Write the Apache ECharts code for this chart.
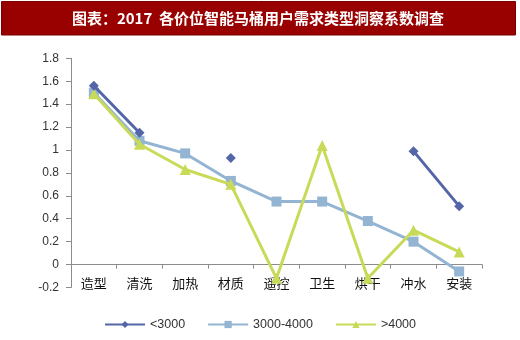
<!DOCTYPE html>
<html>
<head>
<meta charset="utf-8">
<script src="https://cdn.jsdelivr.net/npm/echarts@6/dist/echarts.min.js"></script>
<style>
  html, body { margin: 0; padding: 0; background: #fff; }
  #chart { width: 520px; height: 340px; }
</style>
</head>
<body>
<div id="chart"></div>
<script>
// Demand categories along the x axis
const categories = ['造型', '清洗', '加热', '材质', '遥控', '卫生', '烘干', '冲水', '安装'];

// Insight coefficients by price band (null = no value)
const below3000 = [1.56, 1.15, null, 0.93, null, null, null, 0.99, 0.51];
const mid3000to4000 = [1.50, 1.08, 0.97, 0.73, 0.55, 0.55, 0.38, 0.20, -0.06];
const above4000 = [1.49, 1.05, 0.83, 0.70, -0.12, 1.04, -0.12, 0.30, 0.11];

const seriesNames = ['<3000', '3000-4000', '>4000'];
const titleText = '图表：2017  各价位智能马桶用户需求类型洞察系数调查';

const chart = echarts.init(document.getElementById('chart'), null, { renderer: 'canvas' });

const cjk = '"Noto Sans CJK SC", sans-serif';
const latin = 'Arial, "Liberation Sans", sans-serif';

chart.setOption({
  animation: false,
  backgroundColor: '#ffffff',
  graphic: [
    {
      type: 'rect',
      shape: { x: 1.5, y: 1.5, width: 514, height: 33.5 },
      style: { fill: '#990000', stroke: '#7a0000', lineWidth: 1 },
      z: 0
    },
    {
      type: 'text',
      x: 258, y: 18.5,
      style: {
        text: titleText,
        fill: '#ffffff',
        font: 'bold 15px ' + cjk,
        align: 'center',
        verticalAlign: 'middle'
      },
      z: 1
    }
  ],
  grid: { left: 71, right: 38, top: 58.3, bottom: 52.5, containLabel: false },
  legend: {
    data: seriesNames,
    left: 'center',
    top: 313,
    itemWidth: 40,
    itemHeight: 9,
    itemGap: 22,
    textStyle: { color: '#333', fontSize: 12.5, fontFamily: latin }
  },
  xAxis: {
    type: 'category',
    data: categories,
    boundaryGap: true,
    axisLine: { onZero: true, lineStyle: { color: '#8c8c8c', width: 1 } },
    axisTick: { show: true, length: 4, lineStyle: { color: '#8c8c8c' } },
    axisLabel: { color: '#111', fontSize: 13, fontFamily: cjk, margin: -11 },
    splitLine: { show: false }
  },
  yAxis: {
    type: 'value',
    min: -0.2,
    max: 1.8,
    interval: 0.2,
    axisLine: { show: true, lineStyle: { color: '#8c8c8c', width: 1 } },
    axisTick: { show: true, length: 5, lineStyle: { color: '#8c8c8c' } },
    axisLabel: {
      color: '#333', fontSize: 12, fontFamily: latin, margin: 12,
      formatter: v => String(Math.round(v * 10) / 10)
    },
    splitLine: { show: false }
  },
  series: [
    {
      name: seriesNames[0],
      type: 'line',
      data: below3000,
      connectNulls: false,
      symbol: 'diamond',
      symbolSize: 10,
      showAllSymbol: true,
      lineStyle: { color: '#5466a8', width: 3 },
      itemStyle: { color: '#5466a8' },
      z: 4
    },
    {
      name: seriesNames[1],
      type: 'line',
      data: mid3000to4000,
      symbol: 'rect',
      symbolSize: 10,
      showAllSymbol: true,
      lineStyle: { color: '#93b4d2', width: 3 },
      itemStyle: { color: '#93b4d2' },
      z: 2
    },
    {
      name: seriesNames[2],
      type: 'line',
      data: above4000,
      symbol: 'triangle',
      symbolSize: 11,
      showAllSymbol: true,
      lineStyle: { color: '#c8da58', width: 3 },
      itemStyle: { color: '#c8da58' },
      z: 3
    }
  ]
});
</script>
</body>
</html>
